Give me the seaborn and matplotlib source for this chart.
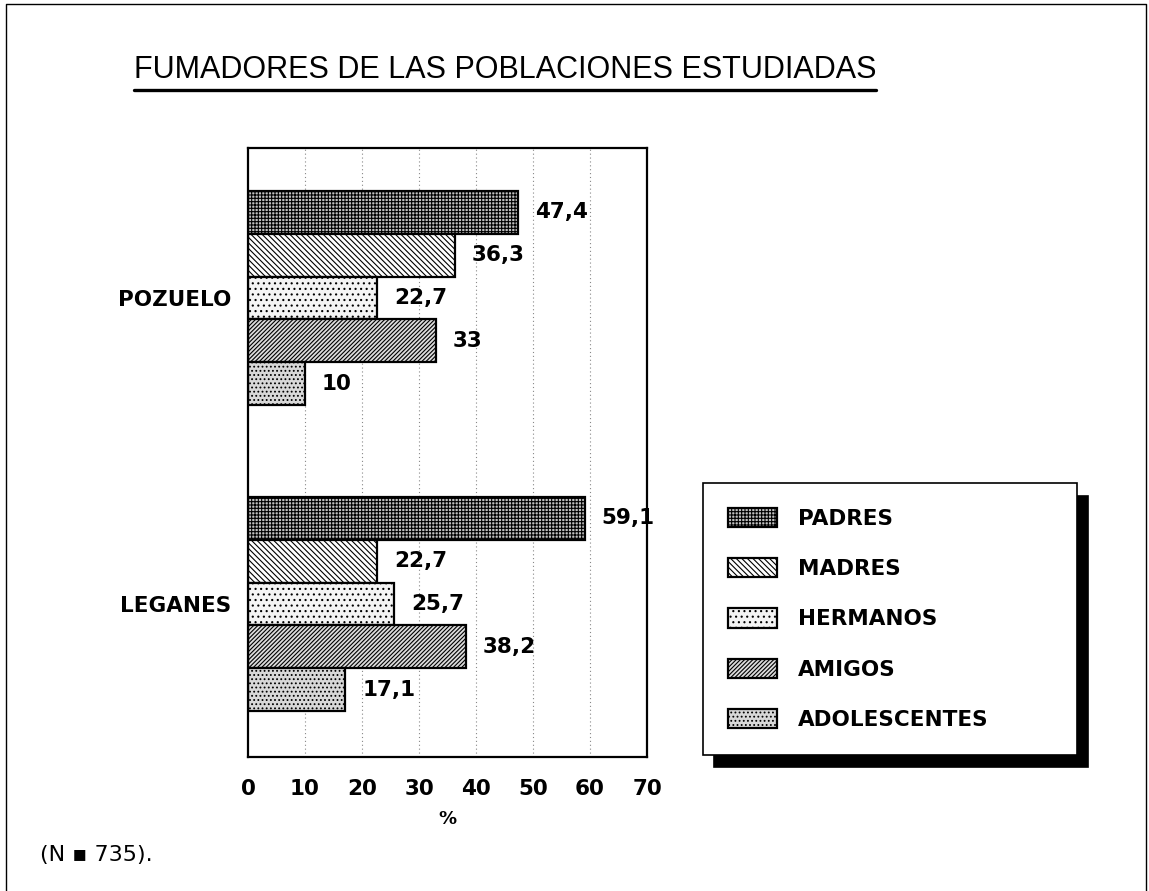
import matplotlib
matplotlib.use("Agg")
import matplotlib.pyplot as plt
import seaborn as sns
import pandas as pd
from matplotlib.lines import Line2D

# ---- data ----
poblaciones = ["POZUELO", "LEGANES"]
series = ["PADRES", "MADRES", "HERMANOS", "AMIGOS", "ADOLESCENTES"]
pozuelo = [47.4, 36.3, 22.7, 33.0, 10.0]
leganes = [59.1, 22.7, 25.7, 38.2, 17.1]
xticks = [0, 10, 20, 30, 40, 50, 60, 70]
title = "FUMADORES DE LAS POBLACIONES ESTUDIADAS"
note = "(N \u25aa 735)."

sns.set_style("white")
plt.rcParams["font.family"] = ["DejaVu Sans"]
plt.rcParams["hatch.linewidth"] = 0.8
plt.rcParams["hatch.color"] = "black"
for k in ["text.color", "axes.labelcolor", "xtick.color", "ytick.color"]:
    plt.rcParams[k] = "black"

rows = []
for pob, vals in zip(poblaciones, [pozuelo, leganes]):
    for s, v in zip(series, vals):
        rows.append({"poblacion": pob, "serie": s, "valor": v})
df = pd.DataFrame(rows)

faces = {"PADRES": "#c0c0c0", "MADRES": "white", "HERMANOS": "#f4f4f4",
         "AMIGOS": "#dcdcdc", "ADOLESCENTES": "#d8d8d8"}
hatches = {"PADRES": "+++++", "MADRES": "\\" * 6, "HERMANOS": "...",
           "AMIGOS": "/" * 8, "ADOLESCENTES": "...."}

BOLD = {"family": "DejaVu Sans", "weight": "bold", "size": 15.5}

W, H = 1149, 891
fig = plt.figure(figsize=(W / 100, H / 100), dpi=100)
ax = fig.add_axes([248 / W, 1 - 757 / H, (647 - 248) / W, (757 - 148) / H])

sns.barplot(data=df, y="poblacion", x="valor", hue="serie", order=poblaciones,
            hue_order=series, palette=faces, orient="h", width=0.70,
            edgecolor="black", linewidth=1.6, legend=False, ax=ax)

for cont, s in zip(ax.containers, series):
    for bar in cont:
        bar.set_hatch(hatches[s])
        bar.set_edgecolor("black")
    labels = [f"{v:g}".replace(".", ",") for v in cont.datavalues]
    ax.bar_label(cont, labels=labels, padding=12, fontproperties=BOLD,
                 color="black", clip_on=False)

ax.set_xlim(0, 70)
ax.set_ylim(1.50, -0.49)
ax.set_xticks(xticks)
ax.set_xticklabels([str(t) for t in xticks], fontproperties=BOLD)
ax.tick_params(axis="x", length=0, pad=16, labelcolor="black")
ax.tick_params(axis="y", length=0, pad=12, labelcolor="black")
ax.set_yticks([0, 1])
ax.set_yticklabels(poblaciones, fontproperties=BOLD)
ax.set_xlabel("%", fontproperties={"family": "DejaVu Sans", "weight": "bold",
                                   "size": 13}, labelpad=8, color="black")
ax.set_ylabel("")
for x in xticks[1:-1]:
    ax.axvline(x, color="#888888", linestyle=(0, (1, 2.5)), linewidth=0.8, zorder=0)
for sp in ax.spines.values():
    sp.set_color("black")
    sp.set_linewidth(1.6)

leg = ax.legend(handles=ax.containers, labels=series,
                loc="upper left", mode="expand",
                bbox_to_anchor=(703 / W, 1 - 755 / H, 374 / W, 272 / H),
                bbox_transform=fig.transFigure, borderaxespad=0,
                fancybox=False, frameon=True, edgecolor="black",
                prop=BOLD, labelcolor="black",
                handlelength=2.3, handleheight=1.0, handletextpad=0.95,
                labelspacing=1.36, borderpad=1.15,
                shadow={"ox": 8, "oy": -9, "color": "black", "alpha": 1})
leg.get_frame().set_linewidth(1.2)

# title with underline
t = fig.text(505 / W, 1 - 70 / H, title, ha="center", va="center",
             fontsize=22, family="Liberation Sans", color="black")
fig.canvas.draw()
bb = t.get_window_extent()
fig.add_artist(Line2D([bb.x0 / W, bb.x1 / W], [1 - 90 / H, 1 - 90 / H],
                      transform=fig.transFigure, color="black", linewidth=2.4))

fig.text(40 / W, 1 - 855 / H, note, ha="left", va="center", fontsize=16,
         family="DejaVu Sans", color="black")

# outer page frame
fig.add_artist(Line2D([6 / W, 6 / W, 1146 / W, 1146 / W],
                      [0, 1 - 4 / H, 1 - 4 / H, 0],
                      transform=fig.transFigure, color="black", linewidth=1.0))

fig.savefig("out.png", dpi=100)
